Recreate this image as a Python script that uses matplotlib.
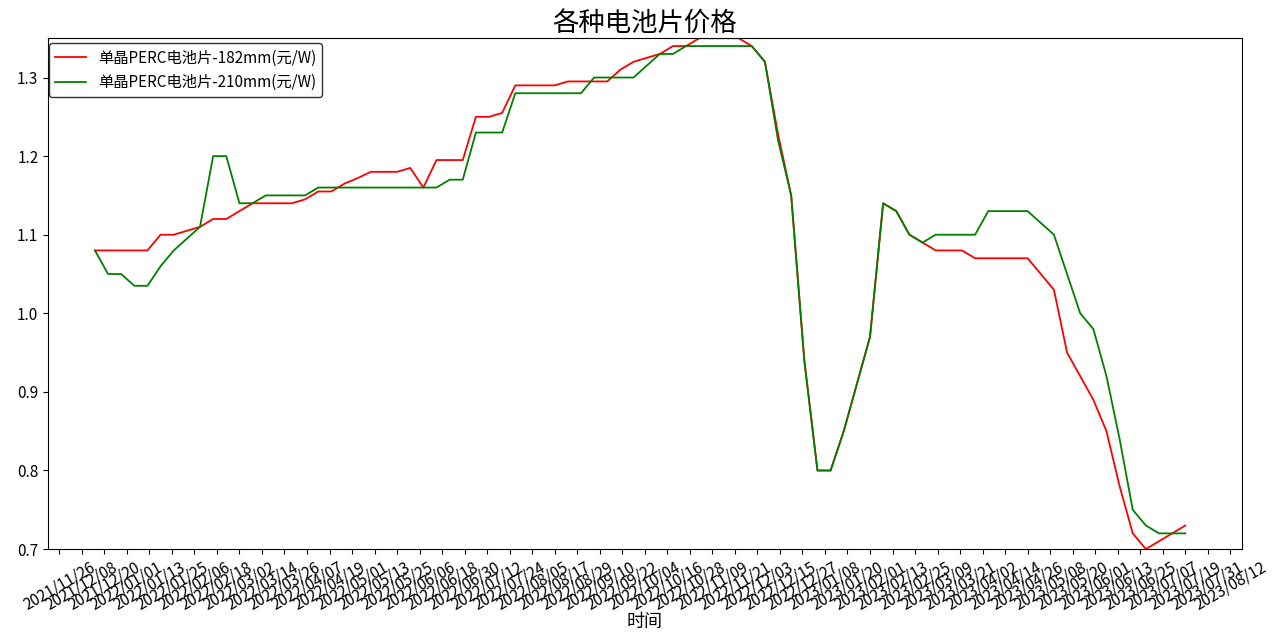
import matplotlib
matplotlib.use("Agg")
import matplotlib.pyplot as plt
import matplotlib.dates as mdates
import pandas as pd

plt.rcParams['font.family'] = ['Noto Sans CJK SC', 'DejaVu Sans']
plt.rcParams['axes.unicode_minus'] = False

title = "各种电池片价格"
xlabel = "时间"
label_182 = "单晶PERC电池片-182mm(元/W)"
label_210 = "单晶PERC电池片-210mm(元/W)"

dates = pd.date_range("2021-12-15", periods=84, freq="7D")

price_182 = [
    1.08, 1.08, 1.08, 1.08, 1.08, 1.10, 1.10, 1.105, 1.11, 1.12,
    1.12, 1.13, 1.14, 1.14, 1.14, 1.14, 1.145, 1.155, 1.155, 1.165,
    1.172, 1.18, 1.18, 1.18, 1.185, 1.16, 1.195, 1.195, 1.195, 1.25,
    1.25, 1.255, 1.29, 1.29, 1.29, 1.29, 1.295, 1.295, 1.295, 1.295,
    1.31, 1.32, 1.325, 1.33, 1.34, 1.34, 1.35, 1.35, 1.35, 1.35,
    1.34, 1.32, 1.228, 1.15, 0.94, 0.80, 0.80, 0.85, 0.91, 0.97,
    1.14, 1.13, 1.10, 1.09, 1.08, 1.08, 1.08, 1.07, 1.07, 1.07,
    1.07, 1.07, 1.05, 1.03, 0.95, 0.92, 0.89, 0.85, 0.78, 0.72,
    0.70, 0.71, 0.72, 0.73,
]

price_210 = [
    1.08, 1.05, 1.05, 1.035, 1.035, 1.06, 1.08, 1.095, 1.11, 1.20,
    1.20, 1.14, 1.14, 1.15, 1.15, 1.15, 1.15, 1.16, 1.16, 1.16,
    1.16, 1.16, 1.16, 1.16, 1.16, 1.16, 1.16, 1.17, 1.17, 1.23,
    1.23, 1.23, 1.28, 1.28, 1.28, 1.28, 1.28, 1.28, 1.30, 1.30,
    1.30, 1.30, 1.315, 1.33, 1.33, 1.34, 1.34, 1.34, 1.34, 1.34,
    1.34, 1.32, 1.22, 1.15, 0.94, 0.80, 0.80, 0.85, 0.91, 0.97,
    1.14, 1.13, 1.10, 1.09, 1.10, 1.10, 1.10, 1.10, 1.13, 1.13,
    1.13, 1.13, 1.115, 1.10, 1.05, 1.00, 0.98, 0.92, 0.84, 0.75,
    0.73, 0.72, 0.72, 0.72,
]

tick_dates = pd.date_range("2021-11-26", "2023-08-12", freq="12D")

fig = plt.figure(figsize=(12.8, 6.37), dpi=100)
ax = fig.add_axes([0.0375, 0.138, 0.9325, 0.802])

ax.plot(dates, price_182, color="red", lw=1.3, label=label_182)
ax.plot(dates, price_210, color="green", lw=1.3, label=label_210)

ax.set_xlim(pd.Timestamp("2021-11-20"), pd.Timestamp("2023-08-18"))
ax.set_ylim(0.7, 1.35)
ax.set_xticks(tick_dates)
ax.xaxis.set_major_formatter(mdates.DateFormatter("%Y/%m/%d"))
for lbl in ax.get_xticklabels():
    lbl.set_rotation(30)
    lbl.set_ha("center")
ax.tick_params(axis="both", labelsize=11)

ax.set_title(title, fontsize=19, pad=2)
ax.set_xlabel(xlabel, fontsize=13, labelpad=0)
leg = ax.legend(loc="upper left", bbox_to_anchor=(0.001, 0.99), borderaxespad=0,
                fontsize=11, edgecolor="#333333", framealpha=1)

fig.savefig("out.png", dpi=100)
